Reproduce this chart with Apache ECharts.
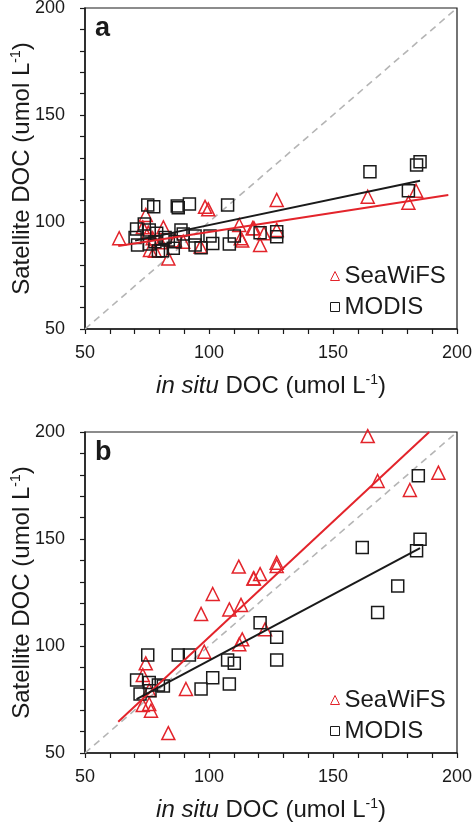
<!DOCTYPE html>
<html><head><meta charset="utf-8">
<script src="https://cdn.jsdelivr.net/npm/echarts@6/dist/echarts.min.js"></script>
<style>html,body{margin:0;padding:0;background:#fff}#c{width:472px;height:823px}</style>
</head><body><div id="c"></div>
<script>
// Panel a data (in situ DOC, satellite DOC)
const seawifsA = [[63.8,92.4],[74.5,103.3],[73.3,97.5],[75.5,95.0],[81.6,97.5],[77.3,92.4],[76.2,86.9],[78.2,86.6],
  [83.6,83.0],[80.5,90.5],[86.3,91.5],[89.6,90.8],[96.6,88.5],[98.4,107.1],[99.7,105.9],[112.2,98.6],[112.8,92.4],
  [113.4,91.3],[117.6,97.1],[118.1,97.1],[122.2,94.7],[120.6,89.3],[127.3,110.3],[127.3,96.3],[164.0,111.8],
  [183.5,114.6],[180.4,109.0]];
const modisA = [[75.3,107.9],[77.7,107.1],[87.2,107.5],[87.6,106.7],[92.1,108.4],[107.5,107.9],[70.8,96.7],[73.9,99.1],
  [75.9,96.3],[70.2,92.8],[71.2,89.3],[75.9,89.7],[78.9,94.7],[82.3,92.8],[85.6,87.7],[81.2,86.6],[88.7,96.3],
  [89.6,94.4],[94.4,93.5],[94.4,89.3],[96.8,88.0],[100.4,93.5],[101.5,90.0],[108.2,89.7],[110.2,93.5],[78.2,90.8],
  [83.6,91.6],[86.3,90.8],[79.6,86.4],[120.6,95.0],[127.3,95.5],[127.3,93.1],[164.9,123.5],[185.1,128.2],
  [183.7,126.6],[180.4,114.6]];
// Panel b data
const seawifsB = [[74.5,91.9],[73.3,86.4],[75.9,79.4],[73.3,72.4],[75.9,72.9],[76.6,69.8],[83.6,59.3],[90.7,79.9],
  [96.8,115.0],[98.1,97.3],[101.5,124.3],[108.2,117.1],[112.0,137.1],[112.9,119.2],[117.9,131.6],[112.2,100.8],
  [113.4,103.1],[118.1,131.6],[120.6,133.6],[122.6,107.8],[127.3,138.9],[127.3,137.4],[164.0,198.1],[168.0,177.1],
  [181.0,172.9],[192.5,181.0]];
const modisB = [[75.3,95.8],[87.6,95.8],[92.1,95.8],[70.8,84.1],[75.9,82.9],[72.2,77.6],[79.6,81.8],[81.6,81.3],
  [76.2,79.1],[96.8,79.9],[101.5,85.2],[107.5,93.5],[110.2,91.9],[108.2,82.2],[120.6,110.9],[127.3,104.1],
  [127.3,93.5],[161.8,146.0],[168.0,115.6],[176.1,128.0],[183.7,144.5],[185.1,149.9],[184.4,179.6]];
// Regression / reference lines (endpoints)
const fitSeaA = [[63.4,88.8],[196.5,112.6]];
const fitModA = [[70.2,91.3],[185.1,119.3]];
const fitSeaB = [[63.4,64.6],[188.8,200.0]];
const fitModB = [[70.8,75.2],[185.1,145.7]];
const oneToOne = [[50,50],[200,200]];
const axisMin = 50, axisMax = 200, tickStep = 10;
const panelLabels = ['a','b'];
const xTitle = '{i|in situ} DOC (umol L{s|-1})';
const yTitle = 'Satellite DOC (umol L{s|-1})';

const RED = '#e3242b', BLACK = '#1a1a1a', FONT = 'Liberation Sans, Arial, sans-serif';
const grids = [
  {left:85, right:15, top:8, height:321, show:true, borderColor:BLACK, borderWidth:1.2, backgroundColor:'transparent', containLabel:false, outerBoundsMode:'none'},
  {left:85, right:15, top:432, height:321, show:true, borderColor:BLACK, borderWidth:1.2, backgroundColor:'transparent', containLabel:false, outerBoundsMode:'none'}
];
const rich = {i:{fontStyle:'italic', fontSize:24, fontFamily:FONT, color:BLACK},
              s:{fontSize:14, verticalAlign:'top', fontFamily:FONT, color:BLACK, lineHeight:26}};
function mkAxis(idx, isX){
  return {
    type:'value', gridIndex:idx, min:axisMin, max:axisMax, interval:tickStep,
    name: isX ? xTitle : yTitle, nameLocation:'middle', nameGap: isX ? 44 : 50, nameMoveOverlap:false,
    nameTextStyle:{fontSize:24, fontFamily:FONT, color:BLACK, rich:rich, lineHeight:26},
    axisLine:{show:true, onZero:false, lineStyle:{color:BLACK, width:1.5}},
    axisTick:{show:true, length:5, inside:false, lineStyle:{color:BLACK, width:1.2}},
    axisLabel:{fontSize:18, fontFamily:FONT, color:BLACK, margin: isX ? 15 : 20,
      formatter: v => (v % 50 === 0 ? String(v) : '')},
    splitLine:{show:false}
  };
}
const xAxes = [mkAxis(0,true), mkAxis(1,true)];
const yAxes = [mkAxis(0,false), mkAxis(1,false)];

function scat(name, data, idx, sym, color, size){
  return {name:name, type:'scatter', xAxisIndex:idx, yAxisIndex:idx, data:data, symbol:sym, symbolSize:size,
    itemStyle:{color:'rgba(255,255,255,0)', borderColor:color, borderWidth:1.5, opacity:1}, z:2};
}
function line(data, idx, color, width, dashed){
  return {type:'line', xAxisIndex:idx, yAxisIndex:idx, data:data, symbol:'none', silent:true,
    lineStyle:{color:color, width:width, type: dashed ? [7,5] : 'solid'}, z: dashed ? 1 : 3};
}
const series = [
  line(oneToOne,0,'#b5b5b5',1.6,true), line(oneToOne,1,'#b5b5b5',1.6,true),
  scat('SeaWiFS', seawifsA, 0, 'triangle', RED, 13), scat('MODIS', modisA, 0, 'rect', BLACK, 12),
  scat('SeaWiFS', seawifsB, 1, 'triangle', RED, 13), scat('MODIS', modisB, 1, 'rect', BLACK, 12),
  line(fitSeaA,0,RED,2,false), line(fitModA,0,BLACK,2,false),
  line(fitSeaB,1,RED,2,false), line(fitModB,1,BLACK,2,false)
];
function mkLegend(top){
  return {orient:'vertical', left:325, top:top, itemWidth:9, itemHeight:9, itemGap:7, selectedMode:false,
    textStyle:{fontSize:24, fontFamily:FONT, color:BLACK, padding:[0,0,0,0]},
    data:[{name:'SeaWiFS', icon:'triangle', itemStyle:{color:'rgba(255,255,255,0)', borderColor:RED, borderWidth:1}},
          {name:'MODIS', icon:'rect', itemStyle:{color:'rgba(255,255,255,0)', borderColor:BLACK, borderWidth:1}}]};
}
const chart = echarts.init(document.getElementById('c'), null, {renderer:'canvas'});
chart.setOption({
  animation:false,
  grid:grids, xAxis:xAxes, yAxis:yAxes, series:series,
  legend:[mkLegend(259), mkLegend(683)],
  graphic:[
    {type:'text', left:95, top:15, style:{text:panelLabels[0], font:'bold 27px ' + FONT, fill:BLACK}},
    {type:'text', left:95, top:439, style:{text:panelLabels[1], font:'bold 27px ' + FONT, fill:BLACK}}
  ]
});
</script></body></html>
